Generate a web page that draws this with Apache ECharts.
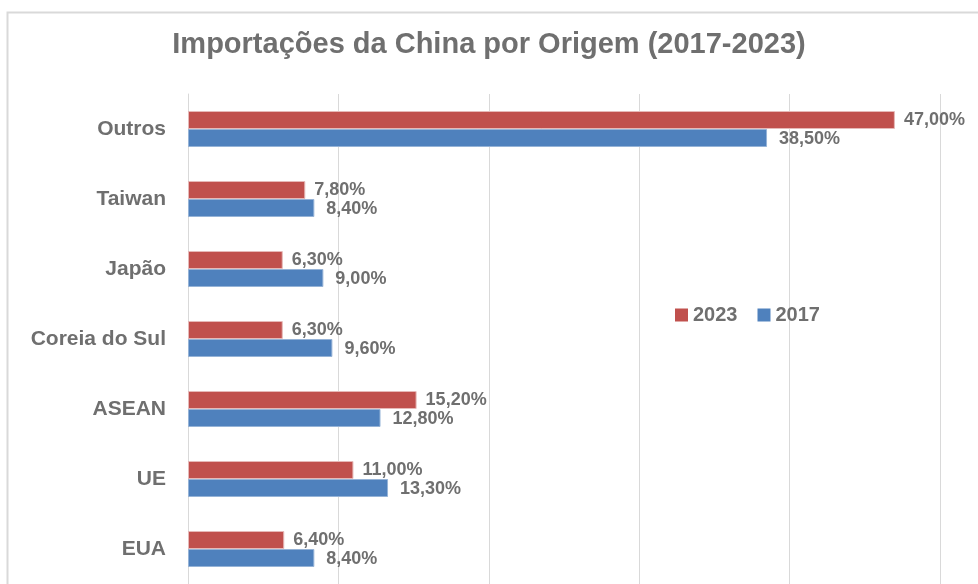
<!DOCTYPE html>
<html><head><meta charset="utf-8">
<script src="https://cdn.jsdelivr.net/npm/echarts@6/dist/echarts.min.js"></script>
<style>html,body{margin:0;padding:0;background:#fff}#c{width:978px;height:584px}</style>
</head><body><div id="c"></div>
<script>
const categories = ['EUA', 'UE', 'ASEAN', 'Coreia do Sul', 'Japão', 'Taiwan', 'Outros'];
const values2023 = [6.4, 11.0, 15.2, 6.3, 6.3, 7.8, 47.0];
const values2017 = [8.4, 13.3, 12.8, 9.6, 9.0, 8.4, 38.5];
const seriesNames = ['2023', '2017'];
const xTicks = [0, 10, 20, 30, 40, 50];

const FONT = '"Liberation Sans", Arial, sans-serif';
const GRAY = '#6f6f6f';
const fmt = p => p.value.toFixed(2).replace('.', ',') + '%';

const chart = echarts.init(document.getElementById('c'), null, {renderer: 'canvas'});
chart.setOption({
  animation: false,
  textStyle: {fontFamily: FONT},
  title: {
    text: 'Importações da China por Origem (2017-2023)',
    left: 'center', top: 25,
    textStyle: {fontFamily: FONT, fontSize: 29, fontWeight: 'bold', color: GRAY}
  },
  graphic: [{
    type: 'rect', silent: true, z: -1,
    shape: {x: 7.5, y: 12.5, width: 980, height: 600},
    style: {fill: 'none', stroke: '#d9d9d9', lineWidth: 2}
  }],
  legend: {
    data: seriesNames,
    left: 670, top: 300,
    itemWidth: 13, itemHeight: 13, itemGap: 20,
    icon: 'rect',
    itemStyle: {borderWidth: 0},
    textStyle: {fontFamily: FONT, fontSize: 20, fontWeight: 'bold', color: GRAY}
  },
  grid: {left: 188, right: 38, top: 94, bottom: 0, containLabel: false},
  xAxis: {
    type: 'value', min: xTicks[0], max: xTicks[xTicks.length - 1], interval: 10,
    axisLabel: {show: false},
    axisLine: {show: false}, axisTick: {show: false},
    splitLine: {show: true, lineStyle: {color: '#d9d9d9', width: 1}}
  },
  yAxis: {
    type: 'category', data: categories,
    axisLine: {show: true, lineStyle: {color: '#d9d9d9', width: 1}},
    axisTick: {show: false},
    axisLabel: {fontFamily: FONT, fontSize: 21, fontWeight: 'bold', color: GRAY, margin: 22}
  },
  series: [
    {
      name: '2023', type: 'bar', data: values2023, barWidth: 18, barGap: '0%',
      itemStyle: {color: '#C0504D', borderColor: '#e6b9b8', borderWidth: 1},
      label: {show: true, position: 'right', distance: 9, offset: [0, 0], formatter: fmt,
        fontFamily: FONT, fontSize: 18, fontWeight: 'bold', color: GRAY}
    },
    {
      name: '2017', type: 'bar', data: values2017, barWidth: 18, barGap: '0%',
      itemStyle: {color: '#4F81BD', borderColor: '#95b3d7', borderWidth: 1},
      label: {show: true, position: 'right', distance: 12, offset: [0, 1], formatter: fmt,
        fontFamily: FONT, fontSize: 18, fontWeight: 'bold', color: GRAY}
    }
  ]
});
</script></body></html>
